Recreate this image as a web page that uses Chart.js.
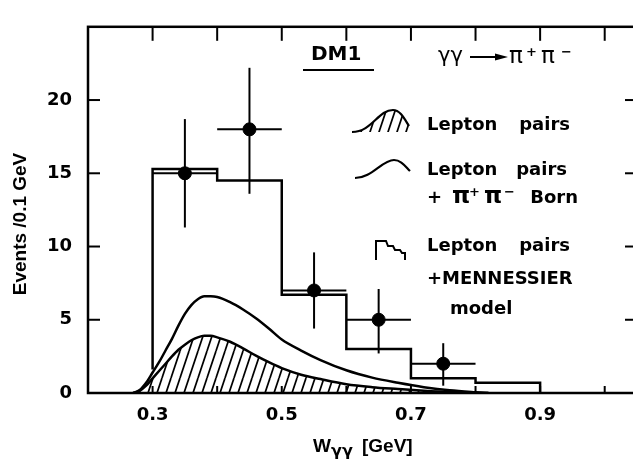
<!DOCTYPE html>
<html>
<head>
<meta charset="utf-8">
<title>DM1 γγ → π+π−</title>
<script src="https://cdn.jsdelivr.net/npm/chart.js@4.4.0/dist/chart.umd.min.js"></script>
<style>
    html, body { margin: 0; padding: 0; background: #fff; overflow: hidden; }
    canvas { display: block; }
</style>
</head>
<body>
<canvas id="wggChart" width="633" height="462"></canvas>
<script>
// Model histogram: lepton pairs + MENNESSIER model, per 0.1 GeV bin
const binEdges = [0.3, 0.4, 0.5, 0.6, 0.7, 0.8, 0.9];
const modelCounts = [15.3, 14.5, 6.7, 3.0, 1.0, 0.7];
const modelStart = 1.6;

// Measured events with error bars
const dataW = [0.35, 0.45, 0.55, 0.65, 0.75];
const dataEvents = [15, 18, 7, 5, 2];
const errLow = [11.3, 13.6, 4.4, 2.7, 0.5];
const errHigh = [18.7, 22.2, 9.6, 7.1, 3.4];
const binHalf = 0.05;

// Smooth predictions
const curveW = [0.27, 0.28, 0.29, 0.30, 0.31, 0.32, 0.33, 0.34, 0.35, 0.36, 0.37, 0.38, 0.39, 0.40,
                0.42, 0.44, 0.46, 0.48, 0.50, 0.53, 0.56, 0.60, 0.64, 0.68, 0.72, 0.76, 0.80, 0.82];
const leptonPairs = [0, 0.15, 0.5, 1.0, 1.5, 2.0, 2.5, 2.95, 3.3, 3.6, 3.8, 3.9, 3.9, 3.8,
                     3.5, 3.05, 2.55, 2.1, 1.7, 1.25, 0.95, 0.6, 0.4, 0.27, 0.15, 0.06, 0.01, 0];
const leptonBorn = [0, 0.2, 0.7, 1.4, 2.1, 2.9, 3.7, 4.6, 5.4, 6.0, 6.4, 6.6, 6.6, 6.55,
                    6.2, 5.7, 5.1, 4.4, 3.65, 2.9, 2.25, 1.55, 1.05, 0.7, 0.4, 0.18, 0.05, 0];

// Axis ticks
const xLabels = [0.3, 0.5, 0.7, 0.9];
const xMarks = [0.3, 0.4, 0.5, 0.6, 0.7, 0.8, 0.9, 1.0];
const yLabels = [0, 5, 10, 15, 20];
const yMarks = [5, 10, 15, 20];

const tickFont = { family: 'DejaVu Sans', size: 18, weight: 'bold' };
const titleFont = '"Liberation Sans", Arial, sans-serif';
const legendFont = '"DejaVu Sans", sans-serif';
const frameRight = 637;   // frame runs a few pixels past the canvas edge

function makeHatch() {
    const c = document.createElement('canvas');
    c.width = 9;
    c.height = 27;
    const g = c.getContext('2d');
    g.strokeStyle = '#000';
    g.lineWidth = 1.7;
    [-9, 0, 9].forEach(off => {
        g.beginPath();
        g.moveTo(off, 27);
        g.lineTo(off + 9, 0);
        g.stroke();
    });
    return g.createPattern(c, 'repeat');
}
const hatch = makeHatch();

const modelPoints = [{ x: binEdges[0], y: modelStart }];
modelCounts.forEach((c, i) => {
    modelPoints.push({ x: binEdges[i], y: c }, { x: binEdges[i + 1], y: c });
});
modelPoints.push({ x: binEdges[binEdges.length - 1], y: 0 });

const toPoints = (xs, ys) => xs.map((x, i) => ({ x: x, y: ys[i] }));

function line(ctx, x1, y1, x2, y2) {
    ctx.beginPath();
    ctx.moveTo(x1, y1);
    ctx.lineTo(x2, y2);
    ctx.stroke();
}

function label(ctx, str, x, y, font, align) {
    ctx.font = font;
    ctx.textAlign = align || 'left';
    ctx.textBaseline = 'alphabetic';
    ctx.fillText(str, x, y);
}

// π+π− written with raised charge signs
function pionPair(ctx, x, y, weight) {
    label(ctx, 'π', x, y, weight + ' 23px ' + legendFont);
    label(ctx, '+', x + 17, y - 7, 'bold 13px ' + legendFont);
    label(ctx, 'π', x + 32, y, weight + ' 23px ' + legendFont);
    label(ctx, '−', x + 52, y - 7, 'bold 13px ' + legendFont);
}

// Stretch the plot area out to the frame position
const wideArea = {
    id: 'wideArea',
    afterLayout(chart) {
        const x = chart.scales.x;
        chart.chartArea.right = frameRight;
        chart.chartArea.width = frameRight - chart.chartArea.left;
        x.right = frameRight;
        x.width = frameRight - x.left;
        x.configure();
    }
};

// Frame, tick marks, error bars and all annotation text
const decorations = {
    id: 'decorations',
    afterDatasetsDraw(chart) {
        const { ctx, chartArea: a, scales: { x, y } } = chart;
        const lg = 'bold 18px ' + legendFont;
        ctx.save();
        ctx.strokeStyle = '#000';
        ctx.fillStyle = '#000';

        // error bars
        ctx.lineWidth = 2;
        dataW.forEach((w, i) => {
            const px = x.getPixelForValue(w);
            const py = y.getPixelForValue(dataEvents[i]);
            line(ctx, px, y.getPixelForValue(errLow[i]), px, y.getPixelForValue(errHigh[i]));
            line(ctx, x.getPixelForValue(w - binHalf), py, x.getPixelForValue(w + binHalf), py);
        });

        // frame
        ctx.lineWidth = 2.5;
        ctx.strokeRect(a.left, a.top, a.right - a.left, a.bottom - a.top);

        // inward tick marks
        ctx.lineWidth = 2;
        xMarks.forEach(v => {
            const px = x.getPixelForValue(v);
            line(ctx, px, a.top, px, a.top + 14);
            line(ctx, px, a.bottom, px, a.bottom - 7);
        });
        yMarks.forEach(v => {
            const py = y.getPixelForValue(v);
            line(ctx, a.left, py, a.left + 12, py);
            line(ctx, a.right, py, a.right - 12, py);
        });

        // axis titles
        ctx.save();
        ctx.translate(26, 224);
        ctx.rotate(-Math.PI / 2);
        label(ctx, 'Events /0.1 GeV', 0, 0, 'bold 19px ' + titleFont, 'center');
        ctx.restore();

        label(ctx, 'W', 313, 452, 'bold 19px ' + titleFont);
        label(ctx, 'γγ', 331, 456, 'bold 16px ' + legendFont);
        label(ctx, '[GeV]', 362, 452, 'bold 19px ' + titleFont);

        // experiment and process
        label(ctx, 'DM1', 311, 60, 'bold 20px ' + legendFont);
        line(ctx, 303, 70, 374, 70);

        label(ctx, 'γγ', 438, 62, '21px ' + legendFont);
        line(ctx, 470, 57, 500, 57);
        ctx.beginPath();
        ctx.moveTo(508, 57);
        ctx.lineTo(495, 53.5);
        ctx.lineTo(495, 60.5);
        ctx.closePath();
        ctx.fill();
        pionPair(ctx, 509, 63, 'normal');

        // legend: hatched lepton pairs
        const hump = () => {
            ctx.beginPath();
            ctx.moveTo(352, 132);
            ctx.bezierCurveTo(372, 132, 378, 110, 393, 110);
            ctx.bezierCurveTo(400, 110, 404, 118, 409, 126);
        };
        hump();
        ctx.lineTo(409, 132);
        ctx.closePath();
        ctx.fillStyle = hatch;
        ctx.fill();
        ctx.fillStyle = '#000';
        ctx.lineWidth = 2.2;
        hump();
        ctx.stroke();
        label(ctx, 'Lepton', 427, 130, lg);
        label(ctx, 'pairs', 570, 130, lg, 'right');

        // legend: lepton pairs + Born curve
        ctx.beginPath();
        ctx.moveTo(355, 178);
        ctx.bezierCurveTo(372, 178, 382, 160, 394, 160);
        ctx.bezierCurveTo(401, 160, 405, 166, 410, 171);
        ctx.stroke();
        label(ctx, 'Lepton', 427, 175, lg);
        label(ctx, 'pairs', 567, 175, lg, 'right');
        label(ctx, '+', 427, 203, lg);
        pionPair(ctx, 452, 203, 'bold');
        label(ctx, 'Born', 578, 203, lg, 'right');

        // legend: histogram model
        ctx.lineWidth = 2;
        ctx.beginPath();
        ctx.moveTo(376, 260);
        ctx.lineTo(376, 241);
        ctx.lineTo(386, 241);
        ctx.lineTo(388, 246);
        ctx.lineTo(393, 246);
        ctx.lineTo(395, 250);
        ctx.lineTo(400, 250);
        ctx.lineTo(402, 253);
        ctx.lineTo(405, 253);
        ctx.lineTo(405, 260);
        ctx.stroke();
        label(ctx, 'Lepton', 427, 251, lg);
        label(ctx, 'pairs', 570, 251, lg, 'right');
        label(ctx, '+MENNESSIER', 427, 284, lg);
        label(ctx, 'model', 450, 314, lg);

        ctx.restore();
    }
};

const ctx = document.getElementById('wggChart').getContext('2d');
const wggChart = new Chart(ctx, {
    type: 'scatter',
    data: {
        datasets: [{
            type: 'line',
            label: 'Lepton pairs',
            data: toPoints(curveW, leptonPairs),
            borderColor: '#000',
            borderWidth: 2.5,
            backgroundColor: hatch,
            fill: 'origin',
            pointRadius: 0,
            cubicInterpolationMode: 'monotone'
        }, {
            type: 'line',
            label: 'Lepton pairs + Born',
            data: toPoints(curveW, leptonBorn),
            borderColor: '#000',
            borderWidth: 2.5,
            fill: false,
            pointRadius: 0,
            cubicInterpolationMode: 'monotone'
        }, {
            type: 'line',
            label: 'Lepton pairs + MENNESSIER model',
            data: modelPoints,
            borderColor: '#000',
            borderWidth: 2.5,
            fill: false,
            pointRadius: 0,
            tension: 0
        }, {
            label: 'DM1',
            data: toPoints(dataW, dataEvents),
            backgroundColor: '#000',
            borderColor: '#000',
            pointRadius: 6.5
        }]
    },
    options: {
        responsive: false,
        animation: false,
        layout: { padding: { top: 7, right: 0, left: 0, bottom: 0 } },
        plugins: {
            legend: { display: false },
            tooltip: { enabled: false }
        },
        scales: {
            x: {
                type: 'linear',
                min: 0.2,
                max: 1.05,
                grid: { display: false, drawTicks: false },
                border: { display: false },
                afterFit: s => { s.height = 69; },
                afterBuildTicks: s => { s.ticks = xLabels.map(v => ({ value: v })); },
                ticks: {
                    padding: 12,
                    color: '#000',
                    font: tickFont,
                    maxRotation: 0,
                    autoSkip: false,
                    callback: v => v.toFixed(1)
                }
            },
            y: {
                min: 0,
                max: 25,
                grid: { display: false, drawTicks: false },
                border: { display: false },
                afterFit: s => { s.width = 88; },
                afterBuildTicks: s => { s.ticks = yLabels.map(v => ({ value: v })); },
                ticks: {
                    padding: 16,
                    color: '#000',
                    font: tickFont
                }
            }
        }
    },
    plugins: [wideArea, decorations]
});
</script>
</body>
</html>
